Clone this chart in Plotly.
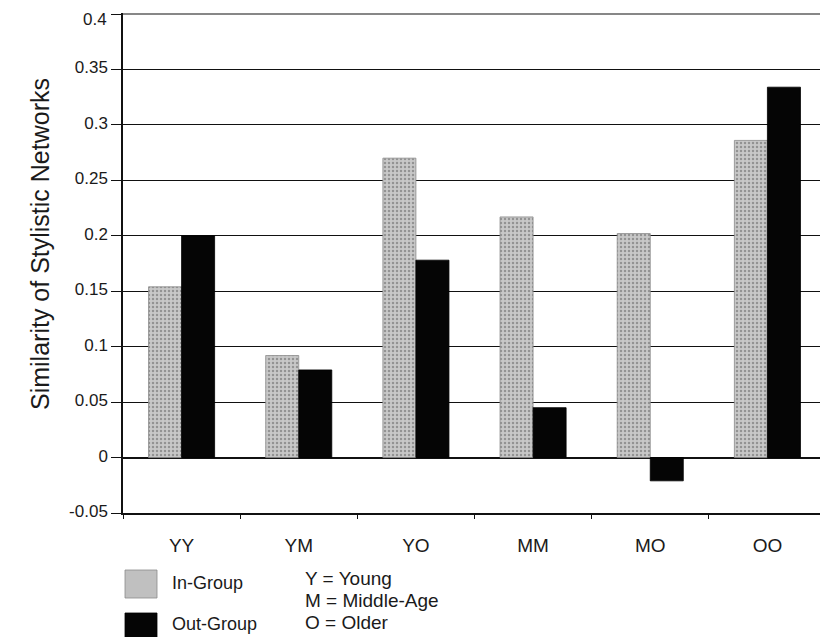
import plotly.graph_objects as go

categories = ["YY", "YM", "YO", "MM", "MO", "OO"]
in_group = [0.154, 0.092, 0.270, 0.217, 0.202, 0.286]
out_group = [0.200, 0.079, 0.178, 0.045, -0.021, 0.334]
y_tickvals = [-0.05, 0, 0.05, 0.1, 0.15, 0.2, 0.25, 0.3, 0.35, 0.4]
y_ticktext = ["-0.05", "0", "0.05", "0.1", "0.15", "0.2", "0.25", "0.3", "0.35", "0.4"]
key_lines = ["Y = Young", "M = Middle-Age", "O = Older"]
y_title = "Similarity of Stylistic Networks"
y_top = 0.4

FONT = "Liberation Sans, Arial, Helvetica, sans-serif"
TXT = "#1a1a1a"

# page offset: body margin of 8px in the rendered page
PW, PH = 703, 500          # plot area size in px
PL, PT = 123, 13           # plot area left/top in page px


def px(xp):
    return (xp - PL) / PW


def py(yp):
    return (PT + PH - yp) / PH


fig = go.Figure()
fig.add_trace(go.Bar(
    x=categories, y=in_group, name="In-Group",
    marker=dict(color="#c4c4c4",
                line=dict(color="#8a8a8a", width=0.8),
                pattern=dict(shape=".", fgcolor="#5e5e5e", bgcolor="#c8c8c8",
                             size=4, solidity=0.3)),
    showlegend=False,
))
fig.add_trace(go.Bar(
    x=categories, y=out_group, name="Out-Group",
    marker=dict(color="#050505", line=dict(color="#000000", width=0.8)),
    showlegend=False,
))

fig.update_layout(
    width=820, height=629,
    margin=dict(l=PL - 8, r=820 - (PL - 8) - PW, t=PT - 8, b=629 - (PT - 8) - PH),
    paper_bgcolor="white", plot_bgcolor="white",
    barmode="group", bargap=0.436, bargroupgap=0,
    font=dict(family=FONT, color=TXT),
)
# the top label (0.4) is placed as an annotation a few px lower so it is not
# clipped by the top edge of the page
axis_text = y_ticktext[:-1] + [""]
fig.update_yaxes(
    range=[-0.05, 0.4009], tickvals=y_tickvals, ticktext=axis_text,
    automargin=False, ticklabelshift=-2,
    showgrid=True, gridcolor="#111111", gridwidth=1.2,
    zeroline=True, zerolinecolor="#111111", zerolinewidth=1.5,
    showline=True, linecolor="#111111", linewidth=1.5,
    ticks="outside", ticklen=10, tickcolor="#111111", tickwidth=1.2,
    tickfont=dict(size=17, family=FONT, color=TXT),
)
fig.update_xaxes(
    showline=True, linecolor="#111111", linewidth=1.5,
    ticks="outside", ticklen=4, tickcolor="#111111", tickson="boundaries",
    tickfont=dict(size=19, family=FONT, color=TXT),
    ticklabelstandoff=14, automargin=False,
    showgrid=False,
)
fig.add_annotation(text=y_ticktext[-1], xref="paper", yref="paper",
                   x=px(109), y=py(19), xanchor="right", yanchor="middle",
                   showarrow=False, font=dict(size=17, family=FONT, color=TXT))

# top gridline (plotly omits the gridline at the range edge)
fig.add_shape(type="line", xref="paper", yref="y", x0=0, x1=1,
              y0=y_top, y1=y_top, line=dict(color="#111111", width=1.2),
              layer="below")

# Y-axis title
fig.add_annotation(text=y_title, xref="paper", yref="paper",
                   x=px(40), y=py(244), textangle=-90,
                   xanchor="center", yanchor="middle", showarrow=False,
                   font=dict(size=25, family=FONT, color=TXT))

# Legend swatches and labels (drawn manually to match the large keys)
fig.add_shape(type="rect", xref="paper", yref="paper",
              x0=px(125), x1=px(157), y0=py(598), y1=py(570),
              fillcolor="#c0c0c0", line=dict(color="#8a8a8a", width=0.8))
fig.add_shape(type="rect", xref="paper", yref="paper",
              x0=px(125), x1=px(157), y0=py(645), y1=py(613),
              fillcolor="#050505", line=dict(color="#000000", width=0.8))
for label, ypix in [("In-Group", 583), ("Out-Group", 624)]:
    fig.add_annotation(text=label, xref="paper", yref="paper",
                       x=px(170), y=py(ypix),
                       xanchor="left", yanchor="middle", showarrow=False,
                       font=dict(size=18, family=FONT, color=TXT))
for line, ypix in zip(key_lines, [578, 600, 622]):
    fig.add_annotation(text=line, xref="paper", yref="paper",
                       x=px(303), y=py(ypix),
                       xanchor="left", yanchor="middle", showarrow=False,
                       font=dict(size=19, family=FONT, color=TXT))

fig.write_html("out.html")
